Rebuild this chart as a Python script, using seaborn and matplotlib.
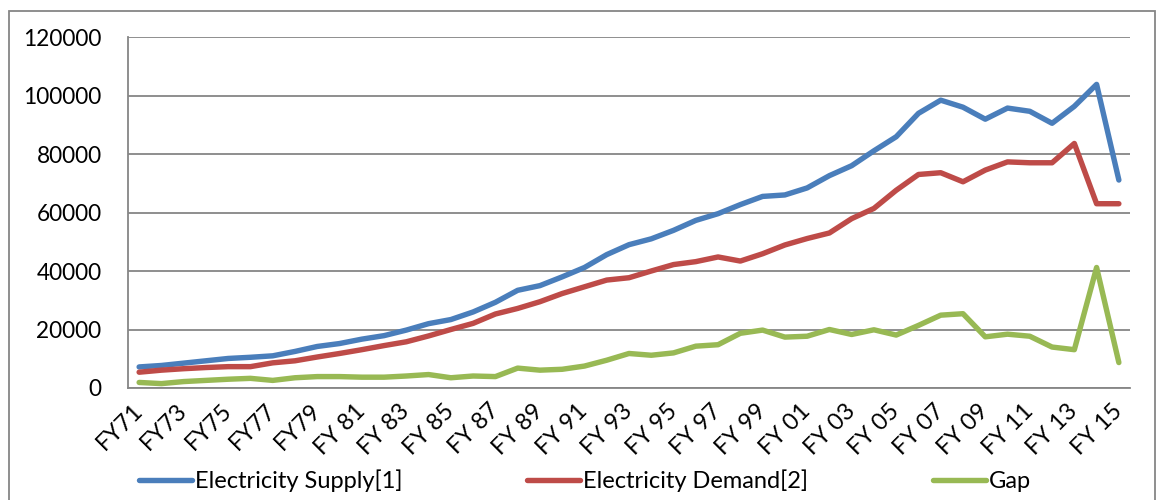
import numpy as np
import pandas as pd
import matplotlib
matplotlib.use("Agg")
import matplotlib.pyplot as plt
import seaborn as sns
from matplotlib.patches import Rectangle

# fiscal years FY71 .. FY15
years = (["FY%d" % y for y in range(71, 81)]
         + ["FY %d" % y for y in range(81, 100)]
         + ["FY %02d" % y for y in range(0, 16)])

supply = [7200, 7700, 8500, 9300, 10100, 10500, 11000, 12500, 14200, 15200,
          16700, 17900, 19800, 22000, 23400, 26000, 29300, 33400, 35000, 38000,
          41200, 45600, 49000, 51000, 53900, 57300, 59600, 62700, 65500, 66000,
          68400, 72600, 76000, 81100, 85900, 93900, 98400, 96000, 91900, 95700,
          94600, 90500, 96300, 103800, 71100]
demand = [5400, 6100, 6600, 7000, 7300, 7300, 8600, 9300, 10600, 11800,
          13100, 14500, 15800, 17800, 20000, 22100, 25300, 27200, 29500, 32300,
          34600, 36900, 37700, 40000, 42200, 43200, 44800, 43400, 45900, 48900,
          51100, 53000, 57900, 61400, 67600, 73000, 73600, 70500, 74500, 77300,
          77000, 77000, 83600, 63000, 63000]
gap = [1900, 1500, 2200, 2600, 3000, 3300, 2600, 3500, 3900, 3900,
       3700, 3700, 4100, 4600, 3500, 4100, 3900, 6800, 6100, 6400,
       7500, 9500, 11800, 11200, 12000, 14300, 14800, 18700, 19800, 17400,
       17700, 20000, 18300, 19900, 18100, 21400, 24900, 25400, 17500, 18400,
       17700, 14000, 13100, 41200, 8700]

series_names = ["Electricity Supply[1]", "Electricity Demand[2]", "Gap"]
colors = ["#4a7ebb", "#be4b48", "#98b954"]

idx = np.arange(len(years))
df = pd.concat([
    pd.DataFrame({"i": idx, "value": vals, "series": name})
    for name, vals in zip(series_names, [supply, demand, gap])
])

sns.set_style("white")
plt.rcParams["font.family"] = ["Lato", "DejaVu Sans"]
plt.rcParams["text.color"] = "black"
plt.rcParams["xtick.color"] = "black"
plt.rcParams["ytick.color"] = "black"

fs = 17
fig = plt.figure(figsize=(11.58, 5), dpi=100)
ax = fig.add_axes([128 / 1158, 1 - 388 / 500, (1130 - 128) / 1158, (388 - 37) / 500])

sns.lineplot(data=df, x="i", y="value", hue="series", palette=colors,
             linewidth=3.9, ax=ax, legend=True)

ax.set_xlim(-0.5, len(years) - 0.5)
ax.set_ylim(0, 120000)
ax.set_yticks(range(0, 120001, 20000))
ax.set_yticklabels([str(v) for v in range(0, 120001, 20000)], fontsize=16.3)
ax.yaxis.grid(True, color="#868686", linewidth=1.3)
ax.set_axisbelow(True)

ax.set_xticks(idx[::2])
ax.set_xticklabels(years[::2], rotation=45, ha="right", va="center",
                   rotation_mode="anchor", fontsize=fs)
ax.set_xticks(np.arange(-0.5, len(years), 1), minor=True)
ax.tick_params(axis="x", which="major", length=0, pad=14)
ax.tick_params(axis="x", which="minor", length=8, color="#868686", width=1.3)
ax.tick_params(axis="y", length=9, color="#868686", width=1.3, pad=10,
               labelcolor="black")
ax.tick_params(axis="x", labelcolor="black")
ax.set_xlabel("")
ax.set_ylabel("")

for s in ["top", "right"]:
    ax.spines[s].set_visible(False)
for s in ["left", "bottom"]:
    ax.spines[s].set_color("#868686")
    ax.spines[s].set_linewidth(1.3)

leg = ax.legend(loc="center", bbox_to_anchor=(0.456, -0.265), ncol=3, frameon=False,
                fontsize=fs, handlelength=2.25, handletextpad=0.1,
                columnspacing=5.3, borderaxespad=0)
for line in leg.get_lines():
    line.set_linewidth(3.9)

fig.patches.append(Rectangle((9 / 1158, -0.05), (1155 - 9) / 1158, 1.05 - 11 / 500,
                             transform=fig.transFigure, fill=False,
                             edgecolor="#868686", linewidth=1.3))

fig.savefig("out.png", dpi=100)
